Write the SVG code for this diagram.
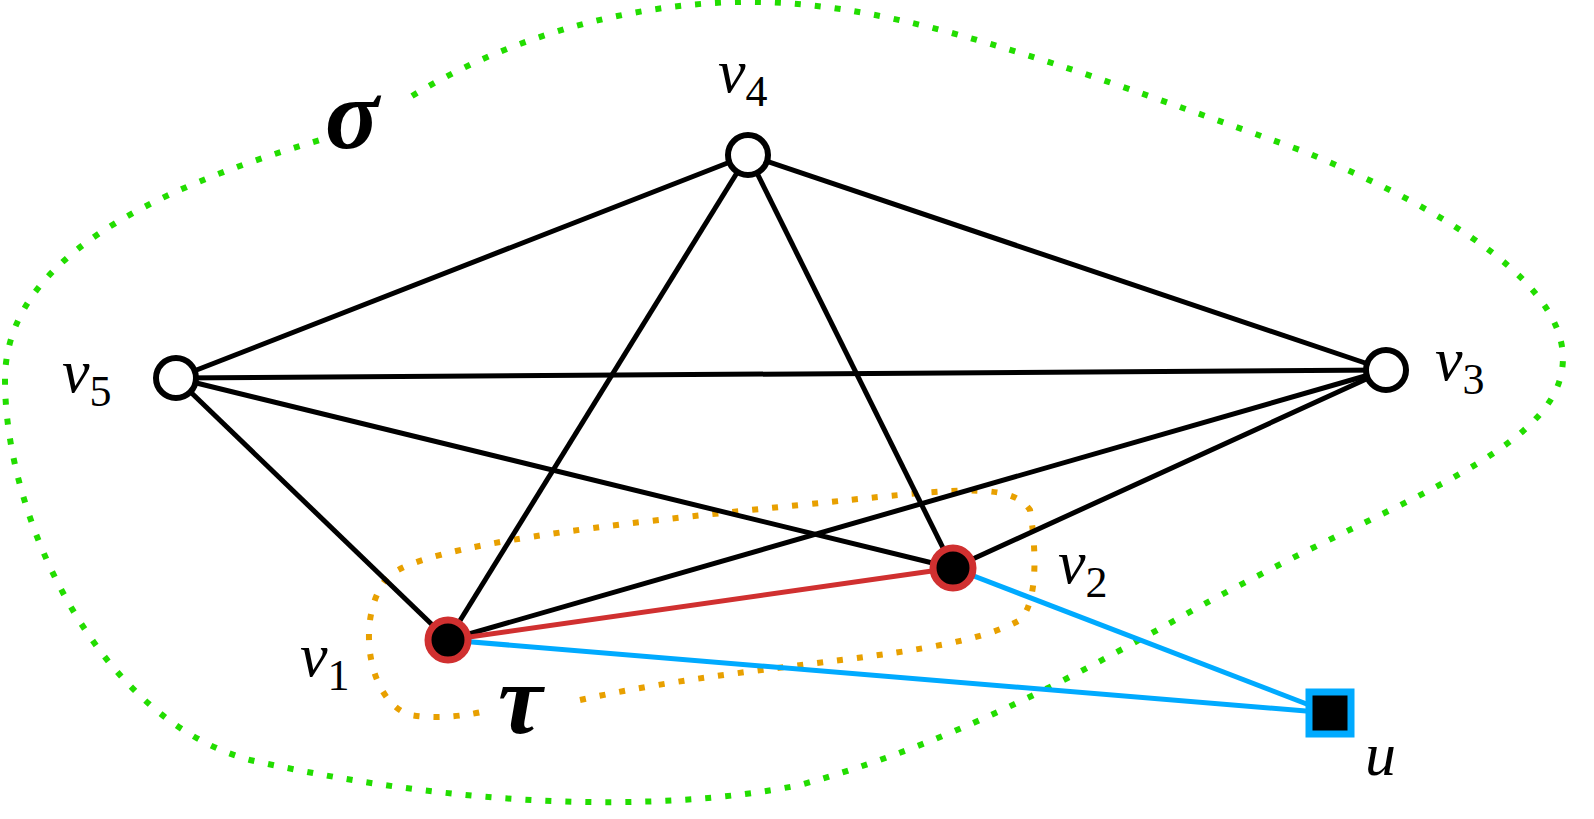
<svg xmlns="http://www.w3.org/2000/svg" width="1594" height="819" viewBox="0 0 1594 819">
<style>
.e{stroke:#000;stroke-width:5;fill:none}
.w{fill:#fff;stroke:#000;stroke-width:6}
.r{fill:#000;stroke:#d03030;stroke-width:7}
.t{font-family:"Liberation Serif",serif;font-style:italic;font-size:62px;fill:#000}
.s{font-size:44px;font-style:normal}
</style>
<rect width="1594" height="819" fill="#fff"/>
<path d="M412,96 C520,30 650,0 760,2 C900,5 1050,60 1300,150 C1450,210 1575,290 1562,370 C1550,450 1400,500 1250,580 C1150,630 1000,730 800,785 C650,815 450,805 250,760 C100,720 5,520 5,380 C5,260 150,190 320,140" fill="none" stroke="#22dd00" stroke-width="6" stroke-dasharray="6,14"/>
<path d="M580,700 C760,660 950,660 1020,620 C1040,600 1035,540 1030,510 C1010,480 950,490 800,505 C600,525 430,545 390,575 C355,610 365,700 410,715 C440,720 470,715 490,710" fill="none" stroke="#e8a000" stroke-width="6" stroke-dasharray="6,14"/>
<g id="edges">
<line class="e" x1="748" y1="155" x2="176" y2="378"/>
<line class="e" x1="748" y1="155" x2="1386" y2="370"/>
<line class="e" x1="748" y1="155" x2="448" y2="640"/>
<line class="e" x1="748" y1="155" x2="953" y2="568"/>
<line class="e" x1="176" y1="378" x2="1386" y2="370"/>
<line class="e" x1="176" y1="378" x2="953" y2="568"/>
<line class="e" x1="176" y1="378" x2="448" y2="640"/>
<line class="e" x1="1386" y1="370" x2="448" y2="640"/>
<line class="e" x1="1386" y1="370" x2="953" y2="568"/>
<line x1="448" y1="640" x2="953" y2="568" stroke="#d03030" stroke-width="5"/>
<line x1="448" y1="640" x2="1330" y2="713" stroke="#00aaff" stroke-width="5"/>
<line x1="953" y1="568" x2="1330" y2="713" stroke="#00aaff" stroke-width="5"/>
</g>
<g id="v4"><circle class="w" cx="748" cy="155" r="20"/><text class="t" x="718" y="92">v<tspan class="s" dy="14">4</tspan></text></g>
<g id="v5"><circle class="w" cx="176" cy="378" r="20"/><text class="t" x="62" y="392">v<tspan class="s" dy="14">5</tspan></text></g>
<g id="v3"><circle class="w" cx="1386" cy="370" r="20"/><text class="t" x="1435" y="380">v<tspan class="s" dy="14">3</tspan></text></g>
<g id="v1"><circle class="r" cx="448" cy="640" r="20"/><text class="t" x="300" y="676">v<tspan class="s" dy="14">1</tspan></text></g>
<g id="v2"><circle class="r" cx="953" cy="568" r="20"/><text class="t" x="1058" y="583">v<tspan class="s" dy="14">2</tspan></text></g>
<g id="u"><rect x="1309" y="692" width="42" height="42" fill="#000" stroke="#00aaff" stroke-width="7"/><text class="t" x="1365" y="775">u</text></g>
<text class="t" x="325" y="148" style="font-size:100px;font-weight:bold">σ</text>
<text class="t" x="498" y="733" style="font-size:100px;font-weight:bold">τ</text>
</svg>
